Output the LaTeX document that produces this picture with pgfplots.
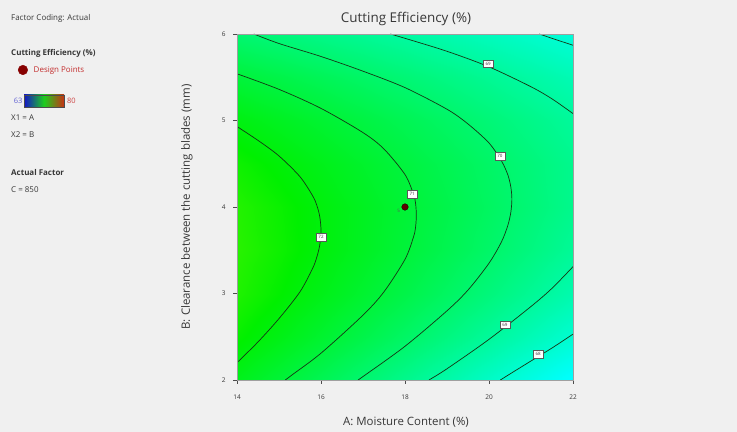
\documentclass[border=0pt]{standalone}
\usepackage{fontspec}
\setmainfont{Open Sans}
\usepackage{pgfplots}
\usepackage{pgfplotstable}
\pgfplotsset{compat=1.18}

\definecolor{bg}{RGB}{240,240,240}
\definecolor{txt}{RGB}{55,55,55}
\definecolor{dpred}{RGB}{135,0,0}
\definecolor{legred}{RGB}{195,45,45}
\definecolor{lowblue}{RGB}{95,95,210}
\definecolor{highred}{RGB}{205,70,70}
\definecolor{cline}{RGB}{20,55,20}

% Predicted cutting efficiency (%) on a grid: A = 14..22, B = 2..6 (C = 850)
\pgfplotstableread{
A  B   f
14 2   71.649
15 2   71.082
16 2   70.509
17 2   69.929
18 2   69.343
19 2   68.751
20 2   68.153
21 2   67.548
22 2   66.937
14 2.5 72.309
15 2.5 71.781
16 2.5 71.248
17 2.5 70.707
18 2.5 70.161
19 2.5 69.608
20 2.5 69.050
21 2.5 68.484
22 2.5 67.913
14 3   72.718
15 3   72.230
16 3   71.736
17 3   71.235
18 3   70.728
19 3   70.215
20 3   69.696
21 3   69.170
22 3   68.638
14 3.5 72.878
15 3.5 72.429
16 3.5 71.975
17 3.5 71.513
18 3.5 71.046
19 3.5 70.572
20 3.5 70.093
21 3.5 69.606
22 3.5 69.114
14 4   72.787
15 4   72.378
16 4   71.963
17 4   71.541
18 4   71.113
19 4   70.679
20 4   70.239
21 4   69.792
22 4   69.339
14 4.5 72.447
15 4.5 72.077
16 4.5 71.702
17 4.5 71.319
18 4.5 70.931
19 4.5 70.536
20 4.5 70.136
21 4.5 69.728
22 4.5 69.315
14 5   71.856
15 5   71.526
16 5   71.190
17 5   70.847
18 5   70.498
19 5   70.143
20 5   69.782
21 5   69.414
22 5   69.040
14 5.5 71.016
15 5.5 70.725
16 5.5 70.429
17 5.5 70.125
18 5.5 69.816
19 5.5 69.500
20 5.5 69.179
21 5.5 68.850
22 5.5 68.516
14 6   69.925
15 6   69.674
16 6   69.417
17 6   69.153
18 6   68.883
19 6   68.607
20 6   68.325
21 6   68.036
22 6   67.741
}\fielddata

\begin{document}
\begin{tikzpicture}
\fill[bg] (0bp,0bp) rectangle (737bp,432bp);

% side panel
\node[anchor=west, inner sep=0pt, font=\fontsize{8}{9}\selectfont, text=txt] at (11bp,414bp) {Factor Coding: Actual};
\node[anchor=west, inner sep=0pt, font=\fontsize{8}{9}\selectfont\bfseries, text=txt] at (11bp,379bp) {Cutting Efficiency (\%)};
\shade[left color={rgb,255:red,20;green,20;blue,200}, right color={rgb,255:red,200;green,50;blue,20}, middle color={rgb,255:red,30;green,205;blue,30}] (24bp,325bp) rectangle (64bp,337bp);
\draw[gray!60!black, line width=0.3pt] (24bp,325bp) rectangle (64bp,337bp);
\node[anchor=east, inner sep=0pt, font=\fontsize{7.5}{8}\selectfont, text=lowblue] at (22.5bp,331bp) {63};
\node[anchor=west, inner sep=0pt, font=\fontsize{7.5}{8}\selectfont, text=highred] at (67bp,331bp) {80};
\node[anchor=west, inner sep=0pt, font=\fontsize{8}{9}\selectfont, text=txt] at (11bp,314bp) {X1 = A};
\node[anchor=west, inner sep=0pt, font=\fontsize{8}{9}\selectfont, text=txt] at (11bp,297bp) {X2 = B};
\node[anchor=west, inner sep=0pt, font=\fontsize{8}{9}\selectfont\bfseries, text=txt] at (11bp,259bp) {Actual Factor};
\node[anchor=west, inner sep=0pt, font=\fontsize{8}{9}\selectfont, text=txt] at (11bp,242bp) {C = 850};

\begin{axis}[
  at={(237bp,52bp)}, anchor=south west,
  scale only axis, width=336bp, height=346bp,
  xmin=14, xmax=22, ymin=2, ymax=6,
  xtick={14,16,18,20,22}, ytick={2,3,4,5,6},
  tick pos=left, tick align=outside, major tick length=4bp,
  axis line style={draw=gray!75, line width=0.4pt},
  tick style={draw=gray!60!black, line width=0.4pt},
  ticklabel style={font=\fontsize{6.5}{8}\selectfont, text=txt},
  xticklabel style={yshift=-7bp},
  yticklabel style={xshift=-4bp},
  /pgf/number format/assume math mode=true,
  xlabel={A: Moisture Content (\%)},
  ylabel={B: Clearance between the cutting blades (mm)},
  every axis x label/.style={at={(axis description cs:0.503,-0.121)}, anchor=center,
    font=\fontsize{11.5}{13}\selectfont, text=txt},
  every axis y label/.style={at={(axis description cs:-0.149,0.5)}, anchor=center, rotate=90,
    font=\fontsize{11.5}{13}\selectfont, text=txt},
  title={Cutting Efficiency (\%)},
  every axis title/.style={at={(axis description cs:0.503,1.043)}, anchor=center,
    font=\fontsize{13.5}{15}\selectfont, text=txt},
  colormap={dx}{rgb255(63)=(0,0,255); rgb255(67)=(0,255,255); rgb255(72.2)=(0,240,0); rgb255(76.5)=(255,255,0); rgb255(80)=(255,0,0)},
  point meta min=63, point meta max=80,
  axis on top,
  legend style={at={(axis description cs:-0.652,0.896)}, anchor=west, draw=none, fill=none,
    font=\fontsize{8}{9}\selectfont, text=legred, inner sep=0pt, column sep=4bp},
  legend cell align=left,
  legend image code/.code={\draw[mark=*, mark size=4.8bp, mark options={fill=dpred, draw=dpred}] plot coordinates {(0.2cm,0cm)};},
]
% response surface
\addplot[surf, shader=interp, mesh/cols=9, point meta=\thisrow{f}, forget plot] table[x=A, y=B] {\fielddata};

% contour lines
\addplot[cline, line width=0.7bp, smooth, forget plot] coordinates {
  (14,4.93) (14.5,4.77) (15,4.59) (15.5,4.35) (15.8,4.13) (15.9,4.02) (15.97,3.89) (16,3.73)
  (15.97,3.56) (15.9,3.42) (15.8,3.29) (15.5,3.02) (15,2.71) (14.5,2.44) (14,2.20)};
\addplot[cline, line width=0.7bp, smooth, forget plot] coordinates {
  (14,5.54) (15,5.36) (16,5.14) (17,4.86) (17.5,4.67) (18,4.375) (18.2,4.15) (18.25,4.05) (18.27,3.905)
  (18.25,3.76) (18.2,3.65) (18,3.395) (17.5,3.02) (17,2.75) (16,2.31) (15.3,2.055) (15.15,2)};
\addplot[cline, line width=0.7bp, smooth, forget plot] coordinates {
  (14.4,6) (15,5.89) (16,5.74) (17,5.57) (18,5.38) (19,5.13) (19.5,4.96) (20,4.74) (20.3,4.53)
  (20.45,4.37) (20.52,4.23) (20.545,4.09) (20.52,3.94) (20.45,3.79) (20.3,3.60) (20,3.35)
  (19.5,3.04) (19,2.80) (18,2.39) (17,2.04) (16.88,2)};
\addplot[cline, line width=0.7bp, smooth, forget plot] coordinates {
  (17.65,6) (18,5.95) (19,5.80) (20,5.62) (21,5.39) (21.5,5.25) (22,5.08)};
\addplot[cline, line width=0.7bp, smooth, forget plot] coordinates {
  (22,3.31) (21.5,3.06) (21,2.85) (20,2.47) (19,2.13) (18.57,2)};
\addplot[cline, line width=0.7bp, smooth, forget plot] coordinates {
  (21.2,6) (21.5,5.95) (22,5.87)};
\addplot[cline, line width=0.7bp, smooth, forget plot] coordinates {
  (22,2.53) (21.5,2.37) (21,2.22) (20.5,2.07) (20.27,2)};

% contour value labels
\addplot[draw=none, mark=none, forget plot, point meta=explicit symbolic,
  nodes near coords,
  nodes near coords style={anchor=center, draw=gray!70!black, line width=0.3pt, fill=white,
    font=\fontsize{4.5}{5}\selectfont, text=txt, inner sep=0.6pt, minimum width=10.5bp, minimum height=7.5bp}]
  coordinates {(16,3.65)[72] (18.17,4.15)[71] (20.26,4.59)[70] (19.98,5.66)[69] (20.38,2.64)[69] (21.17,2.30)[68]};

% design point (centre, 5 replicates)
\addplot[only marks, mark=*, mark size=3.3bp, mark options={fill=dpred!70!black, draw=black!80!dpred},
  nodes near coords={5},
  nodes near coords style={anchor=east, font=\fontsize{4.5}{5}\selectfont, text=gray!70!black, xshift=-1.5bp, yshift=-3.5bp}]
  coordinates {(18,4)};
\addlegendentry{Design Points}
\end{axis}
\end{tikzpicture}
\end{document}
